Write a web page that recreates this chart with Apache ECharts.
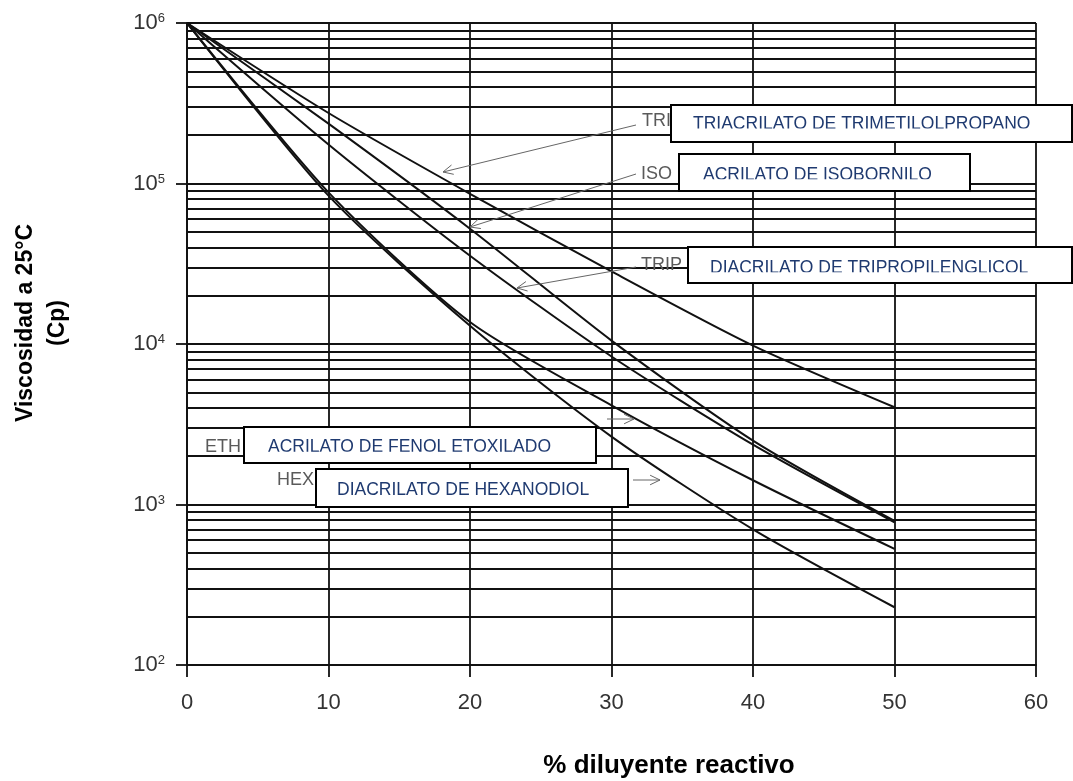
<!DOCTYPE html>
<html><head><meta charset="utf-8">
<script src="https://cdn.jsdelivr.net/npm/echarts@6/dist/echarts.min.js"></script>
<style>html,body{margin:0;padding:0;background:#fff}#c{width:1073px;height:781px}</style>
</head><body><div id="c"></div>
<script>
// ---- data ----
const percent = [0, 10, 20, 30, 40, 50];
const triacrilatoTrimetilolpropano = [1000000, 275000, 86300, 28300, 9770, 4035];
const acrilatoIsobornilo = [1000000, 236000, 52300, 10500, 2500, 790];
const diacrilatoTripropilenglicol = [1000000, 175000, 35500, 8360, 2360, 775];
const acrilatoFenolEtoxilado = [1000000, 88000, 13700, 4150, 1416, 529];
const diacrilatoHexanodiol = [1000000, 84000, 13000, 2650, 700, 229];
const xTicks = [0, 10, 20, 30, 40, 50, 60];
const yMajor = [100, 1000, 10000, 100000, 1000000];
const yMinorGrid = [200, 300, 400, 500, 600, 700, 800, 900,
  2000, 3000, 4000, 5000, 6000, 7000, 8000, 9000,
  20000, 30000, 40000, 50000, 60000, 70000, 80000, 90000,
  200000, 300000, 400000, 500000, 600000, 700000, 800000, 900000];
const seriesNames = ['TRIACRILATO DE TRIMETILOLPROPANO', 'ACRILATO DE ISOBORNILO',
  'DIACRILATO DE TRIPROPILENGLICOL', 'ACRILATO DE FENOL ETOXILADO', 'DIACRILATO DE HEXANODIOL'];
const shortNames = ['TRI', 'ISO', 'TRIP', 'ETH', 'HEX'];
const seriesValues = [triacrilatoTrimetilolpropano, acrilatoIsobornilo,
  diacrilatoTripropilenglicol, acrilatoFenolEtoxilado, diacrilatoHexanodiol];

const FONT = '"Liberation Sans", Arial, Helvetica, sans-serif';
const NAVY = '#1f3a70';
const GRID = '#111';
const GW = 1.8;

const chart = echarts.init(document.getElementById('c'), null, {renderer: 'canvas'});

const series = seriesValues.map((vals, i) => ({
  name: seriesNames[i],
  type: 'line',
  data: percent.map((x, k) => [x, vals[k]]),
  smooth: 0.25,
  symbol: 'none',
  lineStyle: {color: '#111', width: 2},
  z: 5,
  silent: true
}));
series.push({
  type: 'line', data: [], silent: true, symbol: 'none', z: 3,
  markLine: {
    silent: true, symbol: ['none', 'none'], animation: false,
    label: {show: false},
    lineStyle: {color: GRID, width: GW, type: 'solid'},
    data: yMinorGrid.map(v => ({yAxis: v}))
  }
});

// annotation helpers (pixel-positioned callouts)
function arrow(x1, y1, x2, y2) {
  const a = Math.atan2(y2 - y1, x2 - x1), L = 11, s = 0.45;
  return [
    {type: 'line', shape: {x1, y1, x2, y2}, style: {stroke: '#666', lineWidth: 1}, z: 50},
    {type: 'polyline', shape: {points: [
      [x2 - L * Math.cos(a - s), y2 - L * Math.sin(a - s)], [x2, y2],
      [x2 - L * Math.cos(a + s), y2 - L * Math.sin(a + s)]]},
      style: {stroke: '#666', lineWidth: 1, fill: 'none'}, z: 50}
  ];
}
function grayLabel(t, x, y) {
  return {type: 'text', x, y, z: 50, style: {text: t, font: '18px ' + FONT, fill: '#5a5a5a', textVerticalAlign: 'middle'}};
}
function box(x, y, w, h, t, tx, ty, clipY) {
  const els = [
    {type: 'rect', shape: {x, y, width: w, height: h}, style: {fill: '#fff'}, z: 100},
    {type: 'text', x: tx, y: ty, z: 101, style: {text: t, font: '17.5px ' + FONT, fill: NAVY, textVerticalAlign: 'middle'}}
  ];
  if (clipY) els.push({type: 'rect', shape: {x: x + 1, y: clipY, width: w - 2, height: y + h - clipY}, style: {fill: '#fff'}, z: 102});
  els.push({type: 'rect', shape: {x, y, width: w, height: h}, style: {fill: 'none', stroke: '#000', lineWidth: 2}, z: 103});
  return els;
}

const graphics = [].concat(
  grayLabel(shortNames[0], 642, 121), grayLabel(shortNames[1], 641, 174), grayLabel(shortNames[2], 641, 265),
  grayLabel(shortNames[3], 205, 447), grayLabel(shortNames[4], 277, 480),
  arrow(636, 125, 443, 172), arrow(636, 174, 470, 227), arrow(636, 267, 517, 288),
  arrow(607, 419, 634, 419), arrow(633, 480, 660, 480),
  box(671, 105, 401, 37, seriesNames[0], 693, 124.5, 128.5),
  box(679, 154, 291, 37, seriesNames[1], 703, 174.8, 179.3),
  box(688, 247, 384, 36, seriesNames[2], 710, 268, 272.2),
  box(244, 427, 352, 36, seriesNames[3], 268, 447.3, 451.7),
  box(316, 469, 312, 38, seriesNames[4], 337, 490, 0),
  [{type: 'text', x: 42, y: 323, rotation: Math.PI / 2, z: 60,
    style: {text: 'Viscosidad a 25°C\n(Cp)', font: 'bold 23px ' + FONT, fill: '#000',
      textAlign: 'center', textVerticalAlign: 'middle', lineHeight: 32}},
   {type: 'text', x: 669, y: 766, z: 60,
    style: {text: '% diluyente reactivo', font: 'bold 26px ' + FONT, fill: '#000',
      textAlign: 'center', textVerticalAlign: 'middle'}}]
);

chart.setOption({
  animation: false,
  backgroundColor: '#fff',
  grid: {left: 187, right: 37, top: 23, bottom: 116, containLabel: false},
  xAxis: {
    type: 'value', min: 0, max: 60, interval: 10,
    axisLine: {show: true, onZero: false, lineStyle: {color: GRID, width: GW}},
    axisTick: {show: true, length: 12, lineStyle: {color: GRID, width: GW}},
    splitLine: {show: true, lineStyle: {color: GRID, width: GW}},
    axisLabel: {margin: 27, fontSize: 22, color: '#333', fontFamily: FONT,
      formatter: v => xTicks.includes(v) ? String(v) : ''}
  },
  yAxis: {
    type: 'log', logBase: 10, min: 100, max: 1000000, splitNumber: 4,
    axisLine: {show: true, lineStyle: {color: GRID, width: GW}},
    axisTick: {show: true, length: 11, lineStyle: {color: GRID, width: GW}},
    splitLine: {show: true, lineStyle: {color: GRID, width: GW}},
    axisLabel: {
      margin: 22, color: '#333', fontFamily: FONT,
      formatter: v => yMajor.includes(Math.round(v)) ? '{a|10}{s|' + Math.round(Math.log10(v)) + '}' : '',
      rich: {
        a: {fontSize: 22, color: '#333', fontFamily: FONT, lineHeight: 22},
        s: {fontSize: 13, color: '#333', fontFamily: FONT, verticalAlign: 'top', lineHeight: 13}
      }
    }
  },
  series: series,
  graphic: graphics
});
</script></body></html>
